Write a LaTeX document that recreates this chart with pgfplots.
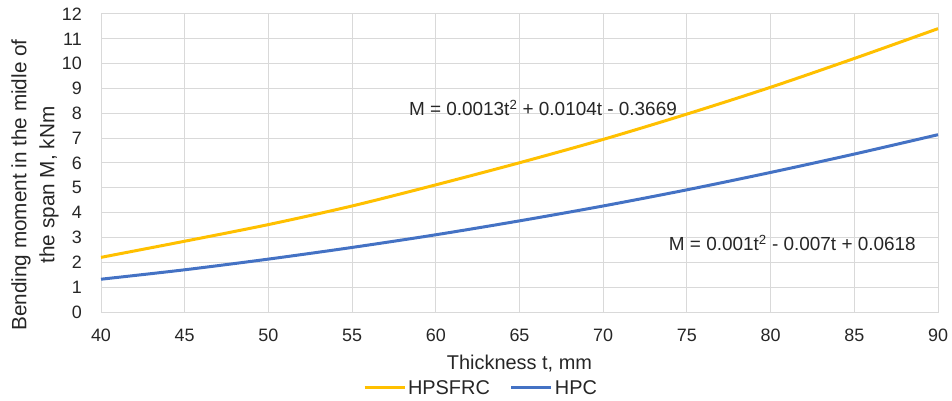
\documentclass[border=0pt]{standalone}
\usepackage{fontspec}
\setmainfont{Liberation Sans}
\usepackage{pgfplots}
\pgfplotsset{compat=1.18}
\usetikzlibrary{calc}
\definecolor{cOr}{HTML}{FFC000}
\definecolor{cBl}{HTML}{4472C4}
\definecolor{cGr}{HTML}{D9D9D9}
\definecolor{cTx}{HTML}{262626}
\begin{document}
\begin{tikzpicture}
\begin{axis}[
  scale only axis, width=837bp, height=298bp,
  xmin=40, xmax=90, ymin=0, ymax=12,
  xtick={40,45,...,90}, ytick={0,1,...,12},
  grid=major, major grid style={cGr, line width=1bp},
  axis line style={cGr, line width=1bp},
  tick style={draw=none},
  /pgf/number format/assume math mode=true,
  every tick label/.append style={font=\fontsize{18}{20}\selectfont, text=cTx},
  yticklabel style={inner sep=0pt, anchor=east, xshift=-19bp},
  xticklabel style={inner sep=0pt, anchor=north, yshift=-17bp},
  legend style={at={(0.454,-0.255)}, anchor=center, draw=none, fill=none,
    font=\fontsize{20}{22}\selectfont, text=cTx, legend columns=2,
    /tikz/every even column/.append style={column sep=18bp}},
  legend image code/.code={\draw[#1, line width=3bp] (0bp,0bp) -- (40bp,0bp);},
  clip=false,
]
\addplot[cOr, line width=3bp, smooth] coordinates {
(40,2.20) (45,2.85) (50,3.52) (55,4.27) (60,5.12) (65,6.01) (70,6.95) (75,7.97) (80,9.05) (85,10.21) (90,11.41)};
\addlegendentry{HPSFRC}
\addplot[cBl, line width=3bp, smooth] coordinates {
(40,1.32) (45,1.70) (50,2.13) (55,2.60) (60,3.11) (65,3.67) (70,4.27) (75,4.92) (80,5.62) (85,6.36) (90,7.14)};
\addlegendentry{HPC}
\node[font=\fontsize{19}{21}\selectfont, text=cTx] at (axis cs:66.4,8.23) {M = 0.0013t\textsuperscript{2} + 0.0104t - 0.3669};
\node[font=\fontsize{19}{21}\selectfont, text=cTx] at (axis cs:81.3,2.78) {M = 0.001t\textsuperscript{2} - 0.007t + 0.0618};
\coordinate (sw) at (rel axis cs:0,0);
\coordinate (se) at (rel axis cs:1,0);
\end{axis}
\node[font=\fontsize{20}{22}\selectfont, text=cTx] at ([yshift=-52bp]$(sw)!0.5!(se)$) {Thickness t, mm};
\node[font=\fontsize{20.8}{28}\selectfont, text=cTx, rotate=90, align=center] at ([shift={(-66bp,127bp)}]sw) {Bending moment in the midle of\\the span M, kNm};
\pgfresetboundingbox
\path ([shift={(-101bp,-89bp)}]sw) rectangle ([shift={(851bp,312bp)}]sw);
\end{tikzpicture}
\end{document}
